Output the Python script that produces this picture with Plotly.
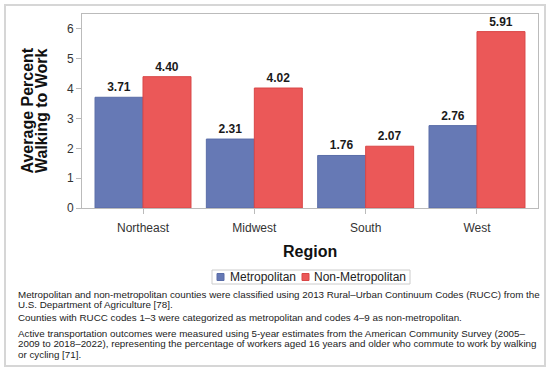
import plotly.graph_objects as go

regions = ["Northeast", "Midwest", "South", "West"]
metro = [3.71, 2.31, 1.76, 2.76]
nonmetro = [4.40, 4.02, 2.07, 5.91]
series_names = ["Metropolitan", "Non-Metropolitan"]
series_colors = ["#6679B5", "#EB5858"]
series_edges = ["#5A6DA8", "#D94646"]
y_ticks = [0, 1, 2, 3, 4, 5, 6]
footnote_lines = [
    "Metropolitan and non-metropolitan counties were classified using 2013 Rural\u2013Urban Continuum Codes (RUCC) from the",
    "U.S. Department of Agriculture [78].",
    "Counties with RUCC codes 1\u20133 were categorized as metropolitan and codes 4\u20139 as non-metropolitan.",
    "Active transportation outcomes were measured using 5-year estimates from the American Community Survey (2005\u2013",
    "2009 to 2018\u20132022), representing the percentage of workers aged 16 years and older who commute to work by walking",
    "or cycling [71].",
]
footnote_y_px = [294, 304.5, 317.5, 333, 343.5, 354]

FONT = "Arial, Liberation Sans, sans-serif"
W, H = 550, 370
# plot area in pixels
PX0, PX1, PY0, PY1 = 82, 538, 14, 208
L, R, T, B = PX0, W - PX1, PY0, H - PY1
plot_w = PX1 - PX0
plot_h = PY1 - PY0


def px_x(x):
    return (x - PX0) / plot_w


def px_y(y):
    return (PY1 - y) / plot_h


fig = go.Figure()
for name, vals, col, edge in zip(series_names, [metro, nonmetro], series_colors, series_edges):
    fig.add_trace(go.Bar(
        x=regions, y=vals, name=name,
        marker=dict(color=col, line=dict(color=edge, width=1)),
        text=[f"{v:.2f}" for v in vals], textposition="outside",
        textfont=dict(family=FONT, size=12, color="#1a1a1a", weight="bold"),
        cliponaxis=False, showlegend=False, hoverinfo="skip",
    ))

annotations = []
for txt, xpx in [("Average Percent", 26.5), ("Walking to Work", 41)]:
    annotations.append(dict(
        text=txt, xref="paper", yref="paper", x=px_x(xpx), y=0.5,
        xanchor="center", yanchor="middle", textangle=-90, showarrow=False,
        font=dict(family=FONT, size=16, color="#111", weight="bold"),
    ))
annotations.append(dict(
    text="Region", xref="paper", yref="paper", x=0.5, y=px_y(251.5),
    xanchor="center", yanchor="middle", showarrow=False,
    font=dict(family=FONT, size=16, color="#111", weight="bold"),
))
for line, ypx in zip(footnote_lines, footnote_y_px):
    annotations.append(dict(
        text=line, xref="paper", yref="paper", x=px_x(16), y=px_y(ypx),
        xanchor="left", yanchor="middle", showarrow=False,
        font=dict(family=FONT, size=9.8, color="#222"),
    ))

shapes = [dict(
    type="rect", xref="paper", yref="paper",
    x0=px_x(5), x1=px_x(545), y0=px_y(366), y1=px_y(5),
    line=dict(color="#d6d6d6", width=2), layer="above",
)]
# compact legend
leg_box = (212, 410, 270, 284)
shapes.append(dict(
    type="rect", xref="paper", yref="paper",
    x0=px_x(leg_box[0]), x1=px_x(leg_box[1]), y0=px_y(leg_box[3]), y1=px_y(leg_box[2]),
    line=dict(color="#cccccc", width=1), fillcolor="white", layer="above",
))
leg_items = [(217, 228), (302, 312)]
for (sx, tx), name, col, edge in zip(leg_items, series_names, series_colors, series_edges):
    shapes.append(dict(
        type="rect", xref="paper", yref="paper",
        x0=px_x(sx), x1=px_x(sx + 7), y0=px_y(280.5), y1=px_y(273.5),
        line=dict(color=edge, width=1), fillcolor=col, layer="above",
    ))
    annotations.append(dict(
        text=name, xref="paper", yref="paper", x=px_x(tx), y=px_y(277),
        xanchor="left", yanchor="middle", showarrow=False,
        font=dict(family=FONT, size=12, color="#222"),
    ))

fig.update_layout(
    width=W, height=H,
    margin=dict(l=L, r=R, t=T, b=B, autoexpand=False),
    paper_bgcolor="white", plot_bgcolor="white",
    barmode="group", bargap=0.138, bargroupgap=0,
    font=dict(family=FONT, size=12, color="#333"),
    showlegend=False,
    annotations=annotations,
    shapes=shapes,
)
fig.update_xaxes(
    range=[-0.548, 3.548],
    showline=True, linecolor="#bbbbbb", linewidth=1, mirror=True,
    ticks="outside", ticklen=5, tickcolor="#bbbbbb", ticklabelstandoff=4,
    tickfont=dict(family=FONT, size=12, color="#333"),
    showgrid=False,
)
fig.update_yaxes(
    range=[0, 6.5], tickvals=y_ticks, showline=True, linecolor="#bbbbbb", linewidth=1, mirror=True,
    ticks="outside", ticklen=5, tickcolor="#bbbbbb",
    tickfont=dict(family=FONT, size=12, color="#333"),
    showgrid=False, zeroline=False,
)
fig.write_html(
    "out.html",
    config={"displayModeBar": False},
    post_script="document.body.style.margin='0';document.body.style.overflow='hidden';",
)
